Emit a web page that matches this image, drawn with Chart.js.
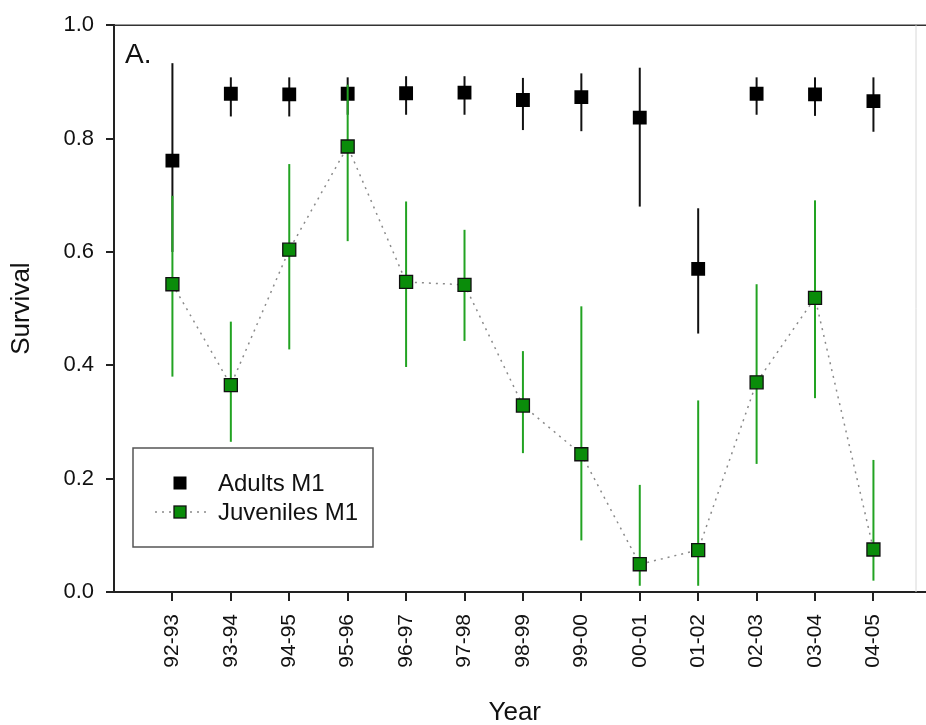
<!DOCTYPE html>
<html>
<head>
<meta charset="utf-8">
<script src="https://cdn.jsdelivr.net/npm/chart.js@4/dist/chart.umd.min.js"></script>
<style>
  html, body { margin: 0; padding: 0; background: #ffffff; }
  #wrap { width: 926px; height: 725px; }
</style>
</head>
<body>
<div id="wrap"><canvas id="c" width="926" height="725"></canvas></div>
<script>
// ---- data ----
const years = ["92-93","93-94","94-95","95-96","96-97","97-98","98-99","99-00","00-01","01-02","02-03","03-04","04-05"];

const adultSurvival = [0.761, 0.879, 0.878, 0.879, 0.880, 0.881, 0.868, 0.873, 0.837, 0.570, 0.879, 0.878, 0.866];
const adultLower    = [0.600, 0.839, 0.839, 0.842, 0.842, 0.842, 0.815, 0.813, 0.680, 0.456, 0.842, 0.840, 0.812];
const adultUpper    = [0.933, 0.908, 0.908, 0.908, 0.910, 0.910, 0.907, 0.915, 0.925, 0.677, 0.908, 0.908, 0.908];

const juvSurvival = [0.543, 0.365, 0.604, 0.786, 0.547, 0.542, 0.329, 0.243, 0.049, 0.074, 0.370, 0.519, 0.075];
const juvLower    = [0.380, 0.265, 0.428, 0.619, 0.397, 0.443, 0.245, 0.091, 0.011, 0.011, 0.226, 0.342, 0.020];
const juvUpper    = [0.699, 0.477, 0.755, 0.895, 0.689, 0.639, 0.425, 0.504, 0.189, 0.338, 0.543, 0.691, 0.233];

const yTickValues = [0, 0.2, 0.4, 0.6, 0.8, 1.0];
const seriesLabels = ["Adults M1", "Juveniles M1"];
const panelLabel = "A.";
const xTitle = "Year";
const yTitle = "Survival";

// ---- styles ----
const FONT = '"Liberation Sans", Arial, sans-serif';
const GREEN_FILL = '#0a8c0a';
const GREEN_BAR = '#22a322';
const DOT_COLOR = '#8a8a8a';

const toPts = (arr) => arr.map((v, i) => ({ x: i, y: v }));

const errorBarPlugin = {
  id: 'errorBars',
  beforeDatasetDraw(chart, args) {
    const ds = chart.data.datasets[args.index];
    if (!ds.errLow) return;
    const ctx = chart.ctx;
    const xs = chart.scales.x, ys = chart.scales.y;
    ctx.save();
    ctx.strokeStyle = ds.errColor;
    ctx.lineWidth = 2;
    ds.data.forEach((p, i) => {
      const px = xs.getPixelForValue(p.x);
      ctx.beginPath();
      ctx.moveTo(px, ys.getPixelForValue(ds.errLow[i]));
      ctx.lineTo(px, ys.getPixelForValue(ds.errHigh[i]));
      ctx.stroke();
    });
    ctx.restore();
  }
};

const framePlugin = {
  id: 'frame',
  afterDraw(chart) {
    const ctx = chart.ctx;
    const a = chart.chartArea;
    ctx.save();
    // top frame line
    ctx.strokeStyle = '#333';
    ctx.lineWidth = 1.6;
    ctx.beginPath();
    ctx.moveTo(a.left, a.top);
    ctx.lineTo(chart.width, a.top);
    ctx.stroke();
    // bottom axis extension
    ctx.strokeStyle = '#222';
    ctx.lineWidth = 2;
    ctx.beginPath();
    ctx.moveTo(a.right, a.bottom);
    ctx.lineTo(chart.width, a.bottom);
    ctx.stroke();
    // faint right frame
    ctx.strokeStyle = '#d8d8d8';
    ctx.lineWidth = 1;
    ctx.beginPath();
    ctx.moveTo(a.right + 0.5, a.top);
    ctx.lineTo(a.right + 0.5, a.bottom);
    ctx.stroke();

    // panel label
    ctx.fillStyle = '#111';
    ctx.font = '28px ' + FONT;
    ctx.textBaseline = 'alphabetic';
    ctx.textAlign = 'left';
    ctx.fillText(panelLabel, a.left + 11, a.top + 38);

    // legend box
    const bx = 133, by = 448, bw = 240, bh = 99;
    ctx.fillStyle = '#ffffff';
    ctx.fillRect(bx, by, bw, bh);
    ctx.strokeStyle = '#555';
    ctx.lineWidth = 1.5;
    ctx.strokeRect(bx, by, bw, bh);

    const ds = chart.data.datasets;
    const rowY = [483, 512];
    const adultDs = ds.find(d => d.label === seriesLabels[0]);
    const juvDs = ds.find(d => d.label === seriesLabels[1]);
    // adults marker
    ctx.fillStyle = adultDs.pointBackgroundColor;
    ctx.fillRect(180 - 6.5, rowY[0] - 6.5, 13, 13);
    // juveniles dotted line + marker
    ctx.strokeStyle = DOT_COLOR;
    ctx.lineWidth = 1.5;
    ctx.setLineDash([2, 5]);
    ctx.beginPath();
    ctx.moveTo(155, rowY[1]);
    ctx.lineTo(206, rowY[1]);
    ctx.stroke();
    ctx.setLineDash([]);
    ctx.fillStyle = juvDs.pointBackgroundColor;
    ctx.fillRect(180 - 6, rowY[1] - 6, 12, 12);
    ctx.strokeStyle = '#111';
    ctx.lineWidth = 1.3;
    ctx.strokeRect(180 - 6, rowY[1] - 6, 12, 12);

    ctx.fillStyle = '#111';
    ctx.font = '24px ' + FONT;
    ctx.textBaseline = 'middle';
    ctx.fillText(adultDs.label, 218, rowY[0] + 1);
    ctx.fillText(juvDs.label, 218, rowY[1] + 1);
    ctx.restore();
  }
};

new Chart(document.getElementById('c'), {
  type: 'line',
  data: {
    datasets: [
      {
        label: seriesLabels[0],
        data: toPts(adultSurvival),
        errLow: adultLower,
        errHigh: adultUpper,
        errColor: '#111111',
        showLine: false,
        pointStyle: 'rect',
        pointRadius: 9.8,
        pointBackgroundColor: '#000000',
        pointBorderColor: '#000000',
        pointBorderWidth: 0,
        order: 2
      },
      {
        label: seriesLabels[1],
        data: toPts(juvSurvival),
        errLow: juvLower,
        errHigh: juvUpper,
        errColor: GREEN_BAR,
        showLine: true,
        borderColor: DOT_COLOR,
        borderWidth: 1.5,
        borderDash: [2, 5],
        pointStyle: 'rect',
        pointRadius: 9.2,
        pointBackgroundColor: GREEN_FILL,
        pointBorderColor: '#111111',
        pointBorderWidth: 1.3,
        order: 1
      }
    ]
  },
  options: {
    responsive: false,
    animation: false,
    layout: { padding: { left: 0, right: 6, top: 21, bottom: 0 } },
    plugins: { legend: { display: false }, tooltip: { enabled: false } },
    scales: {
      x: {
        type: 'linear',
        min: -1,
        max: 12.72,
        afterBuildTicks(scale) { scale.ticks = years.map((_, i) => ({ value: i })); },
        afterFit(scale) { scale.height = 133; },
        ticks: {
          autoSkip: false,
          minRotation: 90,
          maxRotation: 90,
          padding: 13,
          color: '#111',
          font: { family: FONT, size: 21 },
          callback: (v) => years[v]
        },
        grid: { drawOnChartArea: false, drawTicks: true, tickLength: 9, color: '#222', lineWidth: 2 },
        border: { display: true, color: '#222', width: 2 },
        title: { display: true, text: xTitle, color: '#111', font: { family: FONT, size: 26 }, padding: { top: 0, bottom: -3 } }
      },
      y: {
        min: 0,
        max: 1,
        afterBuildTicks(scale) { scale.ticks = yTickValues.map(v => ({ value: v })); },
        afterFit(scale) { scale.width = 114; },
        ticks: {
          padding: 12,
          color: '#111',
          font: { family: FONT, size: 22 },
          callback: (v) => Number(v).toFixed(1)
        },
        grid: { drawOnChartArea: false, drawTicks: true, tickLength: 8, color: '#222', lineWidth: 2 },
        border: { display: true, color: '#222', width: 2 },
        title: { display: true, text: yTitle, color: '#111', font: { family: FONT, size: 26 }, padding: { top: 6, bottom: 0 } }
      }
    }
  },
  plugins: [errorBarPlugin, framePlugin]
});
</script>
</body>
</html>
